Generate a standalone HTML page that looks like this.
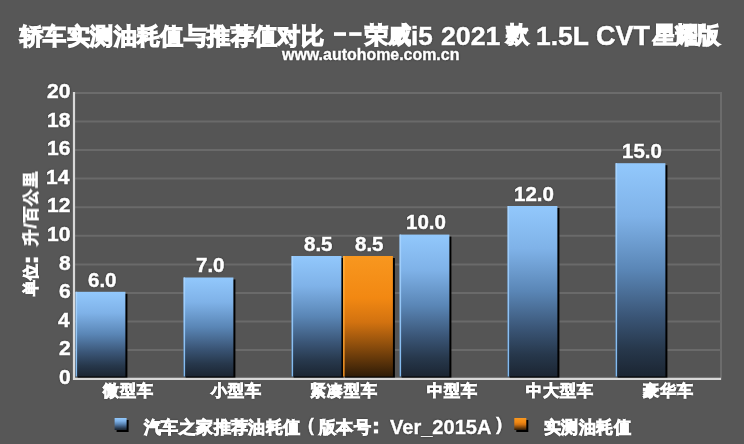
<!DOCTYPE html>
<html><head><meta charset="utf-8">
<style>
html,body{margin:0;padding:0;}
body{width:744px;height:444px;overflow:hidden;background:#575757;position:relative;font-family:"Liberation Sans",sans-serif;color:#fff;font-weight:bold;}
.a{position:absolute;white-space:nowrap;line-height:1;will-change:transform;text-shadow:0 0 2px rgba(0,0,0,0.9);}
svg{position:absolute;left:0;top:0;}
.yt{position:absolute;will-change:transform;text-shadow:0 0 2px rgba(0,0,0,0.9);font-size:16px;letter-spacing:1.3px;line-height:1;white-space:nowrap;transform:translate(-50%,-50%) rotate(-90deg);-webkit-text-stroke:0.9px #fff;}
</style></head>
<body>
<svg width="744" height="444" viewBox="0 0 744 444">
<defs>
<linearGradient id="gb" x1="0" y1="0" x2="0" y2="1">
<stop offset="0" stop-color="#92c8fc"/>
<stop offset="0.25" stop-color="#7fb2e8"/>
<stop offset="0.5" stop-color="#5a86b6"/>
<stop offset="0.72" stop-color="#3a5576"/>
<stop offset="0.87" stop-color="#27384c"/>
<stop offset="1" stop-color="#1b2532"/>
</linearGradient>
<linearGradient id="hb" x1="0" y1="0" x2="0" y2="1">
<stop offset="0" stop-color="#a8d4ff"/>
<stop offset="1" stop-color="#80b8ee"/>
</linearGradient>
<linearGradient id="go" x1="0" y1="0" x2="0" y2="1">
<stop offset="0" stop-color="#f8971f"/>
<stop offset="0.35" stop-color="#f28812"/>
<stop offset="0.55" stop-color="#d27210"/>
<stop offset="0.75" stop-color="#8a4c0c"/>
<stop offset="1" stop-color="#2e1b07"/>
</linearGradient>
<linearGradient id="ho" x1="0" y1="0" x2="0" y2="1">
<stop offset="0" stop-color="#ffb040"/>
<stop offset="1" stop-color="#f09020"/>
</linearGradient>
</defs>
<rect x="74" y="93" width="647" height="285.8" fill="#555555" stroke="#6c6c6c" stroke-width="2"/>
<g stroke="#6a6a6a" stroke-width="2">
<line x1="74" x2="721" y1="350.1" y2="350.1"/>
<line x1="74" x2="721" y1="321.5" y2="321.5"/>
<line x1="74" x2="721" y1="293.0" y2="293.0"/>
<line x1="74" x2="721" y1="264.4" y2="264.4"/>
<line x1="74" x2="721" y1="235.8" y2="235.8"/>
<line x1="74" x2="721" y1="207.2" y2="207.2"/>
<line x1="74" x2="721" y1="178.6" y2="178.6"/>
<line x1="74" x2="721" y1="150.1" y2="150.1"/>
<line x1="74" x2="721" y1="121.5" y2="121.5"/>
</g>
<rect x="77.6" y="293.8" width="49.8" height="84.7" fill="#000"/>
<rect x="75.6" y="291.8" width="49.8" height="84.7" fill="url(#gb)"/>
<rect x="75.6" y="291.8" width="1.5" height="84.7" fill="url(#hb)"/>
<rect x="185.6" y="279.5" width="49.8" height="99.0" fill="#000"/>
<rect x="183.6" y="277.5" width="49.8" height="99.0" fill="url(#gb)"/>
<rect x="183.6" y="277.5" width="1.5" height="99.0" fill="url(#hb)"/>
<rect x="293.6" y="258.0" width="49.8" height="120.5" fill="#000"/>
<rect x="291.6" y="256.0" width="49.8" height="120.5" fill="url(#gb)"/>
<rect x="291.6" y="256.0" width="1.5" height="120.5" fill="url(#hb)"/>
<rect x="401.6" y="236.6" width="49.8" height="141.9" fill="#000"/>
<rect x="399.6" y="234.6" width="49.8" height="141.9" fill="url(#gb)"/>
<rect x="399.6" y="234.6" width="1.5" height="141.9" fill="url(#hb)"/>
<rect x="509.6" y="208.0" width="49.8" height="170.5" fill="#000"/>
<rect x="507.6" y="206.0" width="49.8" height="170.5" fill="url(#gb)"/>
<rect x="507.6" y="206.0" width="1.5" height="170.5" fill="url(#hb)"/>
<rect x="617.6" y="165.2" width="49.8" height="213.3" fill="#000"/>
<rect x="615.6" y="163.2" width="49.8" height="213.3" fill="url(#gb)"/>
<rect x="615.6" y="163.2" width="1.5" height="213.3" fill="url(#hb)"/>
<rect x="345.1" y="258.0" width="49.8" height="120.5" fill="#000"/>
<rect x="343.1" y="256.0" width="49.8" height="120.5" fill="url(#go)"/>
<rect x="343.1" y="256.0" width="1.5" height="120.5" fill="url(#ho)"/>
<line x1="74" x2="74" y1="92" y2="380" stroke="#d8d8d8" stroke-width="2.2"/>
<line x1="73" x2="721" y1="378.8" y2="378.8" stroke="#d8d8d8" stroke-width="2.2"/>
<rect x="334" y="32.2" width="12" height="3.7" fill="#fff"/>
<rect x="349.2" y="32.2" width="12.4" height="3.7" fill="#fff"/>
<rect x="373.9" y="421.7" width="4.2" height="4" fill="#fff"/>
<rect x="373.9" y="429.4" width="4.2" height="4" fill="#fff"/>
<rect x="25.7" y="257.4" width="4.4" height="5" fill="#fff"/>
<rect x="33.7" y="257.4" width="4.4" height="5" fill="#fff"/>
<rect x="116.6" y="420" width="12" height="12" fill="#000"/>
<rect x="114.6" y="418" width="12" height="12" fill="url(#gb)"/>
<rect x="516.3" y="420" width="12" height="12" fill="#000"/>
<rect x="514.3" y="418" width="12" height="12" fill="url(#go)"/>
</svg>
<div class="a" style="left:20.3px;top:24.5px;font-size:23px;letter-spacing:0.39px;-webkit-text-stroke:1.4px #fff;">轿车实测油耗值与推荐值对比</div>
<div class="a" style="left:364.6px;top:23.5px;font-size:23px;letter-spacing:0.3px;-webkit-text-stroke:1.4px #fff;">荣威</div>
<div class="a" style="left:411.4px;top:22.5px;font-size:26px;-webkit-text-stroke:0.5px #fff;">i5</div>
<div class="a" style="left:441.4px;top:22.5px;font-size:26.69px;-webkit-text-stroke:0.5px #fff;">2021</div>
<div class="a" style="left:505.5px;top:22.5px;font-size:23px;-webkit-text-stroke:1.4px #fff;">款</div>
<div class="a" style="left:536px;top:22.5px;font-size:26.41px;-webkit-text-stroke:0.5px #fff;">1.5L</div>
<div class="a" style="left:596.3px;top:22.5px;font-size:26.97px;-webkit-text-stroke:0.5px #fff;">CVT</div>
<div class="a" style="left:652.7px;top:23.5px;font-size:23px;letter-spacing:-0.85px;-webkit-text-stroke:1.4px #fff;">星耀版</div>
<div class="a" style="left:282.1px;top:46.8px;font-size:15.95px;-webkit-text-stroke:0.4px #fff;">www.autohome.com.cn</div>
<div class="a" style="left:59px;top:365.9px;font-size:21px;-webkit-text-stroke:0.5px #fff;">0</div>
<div class="a" style="left:59px;top:337.3px;font-size:21px;-webkit-text-stroke:0.5px #fff;">2</div>
<div class="a" style="left:58px;top:308.7px;font-size:21px;-webkit-text-stroke:0.5px #fff;">4</div>
<div class="a" style="left:59px;top:280.2px;font-size:21px;-webkit-text-stroke:0.5px #fff;">6</div>
<div class="a" style="left:59px;top:251.6px;font-size:21px;-webkit-text-stroke:0.5px #fff;">8</div>
<div class="a" style="left:47px;top:223.0px;font-size:21px;-webkit-text-stroke:0.5px #fff;">10</div>
<div class="a" style="left:47px;top:194.4px;font-size:21px;-webkit-text-stroke:0.5px #fff;">12</div>
<div class="a" style="left:46px;top:165.8px;font-size:21px;-webkit-text-stroke:0.5px #fff;">14</div>
<div class="a" style="left:47px;top:137.3px;font-size:21px;-webkit-text-stroke:0.5px #fff;">16</div>
<div class="a" style="left:47px;top:108.7px;font-size:21px;-webkit-text-stroke:0.5px #fff;">18</div>
<div class="a" style="left:47px;top:80.1px;font-size:21px;-webkit-text-stroke:0.5px #fff;">20</div>
<div class="a" style="left:87.9px;top:269.6px;font-size:20.5px;-webkit-text-stroke:0.5px #fff;">6.0</div>
<div class="a" style="left:195.9px;top:255.3px;font-size:20.5px;-webkit-text-stroke:0.5px #fff;">7.0</div>
<div class="a" style="left:303.9px;top:233.8px;font-size:20.5px;-webkit-text-stroke:0.5px #fff;">8.5</div>
<div class="a" style="left:355.4px;top:233.8px;font-size:20.5px;-webkit-text-stroke:0.5px #fff;">8.5</div>
<div class="a" style="left:405.9px;top:212.4px;font-size:20.5px;-webkit-text-stroke:0.5px #fff;">10.0</div>
<div class="a" style="left:513.9px;top:183.8px;font-size:20.5px;-webkit-text-stroke:0.5px #fff;">12.0</div>
<div class="a" style="left:621.9px;top:141.0px;font-size:20.5px;-webkit-text-stroke:0.5px #fff;">15.0</div>
<div class="a" style="left:103.1px;top:382.7px;font-size:16px;letter-spacing:1.0px;-webkit-text-stroke:0.9px #fff;">微型车</div>
<div class="a" style="left:211.1px;top:382.7px;font-size:16px;letter-spacing:1.0px;-webkit-text-stroke:0.9px #fff;">小型车</div>
<div class="a" style="left:310.1px;top:382.7px;font-size:16px;letter-spacing:1.0px;-webkit-text-stroke:0.9px #fff;">紧凑型车</div>
<div class="a" style="left:426.6px;top:382.7px;font-size:16px;letter-spacing:1.0px;-webkit-text-stroke:0.9px #fff;">中型车</div>
<div class="a" style="left:526.1px;top:382.7px;font-size:16px;letter-spacing:1.0px;-webkit-text-stroke:0.9px #fff;">中大型车</div>
<div class="a" style="left:643.1px;top:382.7px;font-size:16px;letter-spacing:1.0px;-webkit-text-stroke:0.9px #fff;">豪华车</div>
<div class="a" style="left:144px;top:419.3px;font-size:17px;letter-spacing:0.38px;-webkit-text-stroke:0.95px #fff;">汽车之家推荐油耗值</div>
<div class="a" style="left:307.8px;top:417.1px;font-size:17.52px;-webkit-text-stroke:0.4px #fff;">(</div>
<div class="a" style="left:319px;top:419.3px;font-size:17px;letter-spacing:0.25px;-webkit-text-stroke:0.95px #fff;">版本号</div>
<div class="a" style="left:389.7px;top:416.5px;font-size:20.06px;-webkit-text-stroke:0.4px #fff;">Ver_2015A</div>
<div class="a" style="left:495.9px;top:414.8px;font-size:18.64px;-webkit-text-stroke:0.4px #fff;">)</div>
<div class="a" style="left:543.5px;top:418.9px;font-size:17px;letter-spacing:0.38px;-webkit-text-stroke:0.95px #fff;">实测油耗值</div>
<div class="yt" style="left:31px;top:207.8px;">升/百公里</div>
<div class="yt" style="left:31px;top:280.3px;letter-spacing:0;">单位</div>
</body></html>
